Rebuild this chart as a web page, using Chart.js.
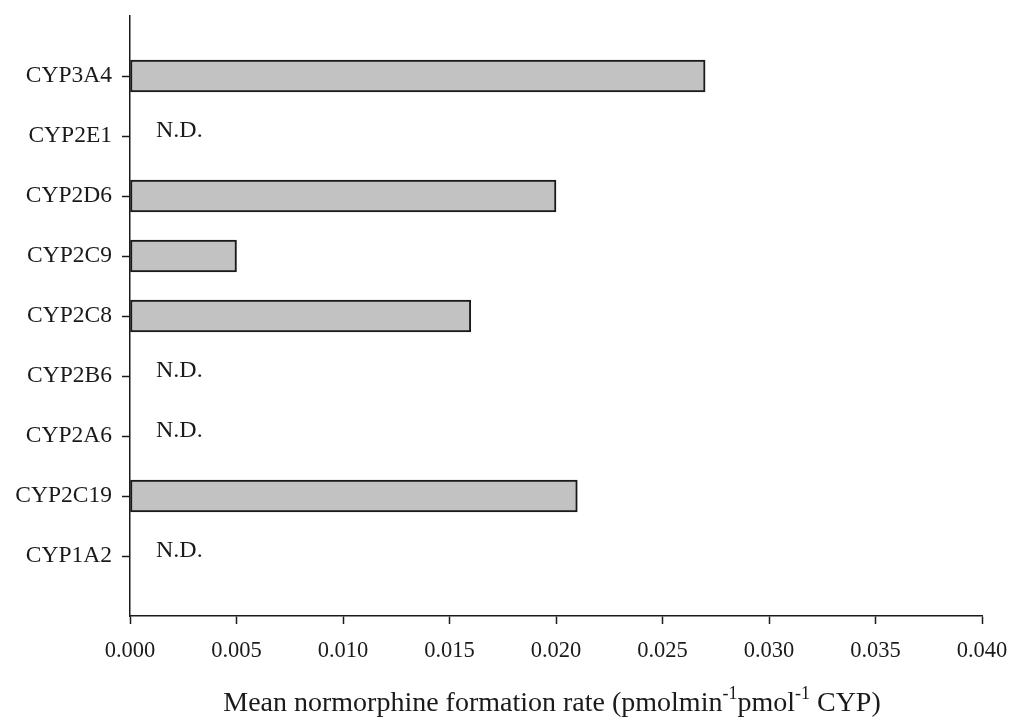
<!DOCTYPE html>
<html>
<head>
<meta charset="utf-8">
<script src="https://cdn.jsdelivr.net/npm/chart.js@4.4.0/dist/chart.umd.min.js"></script>
<style>
  html, body { margin: 0; padding: 0; background: #fff; }
  #wrap { width: 1013px; height: 724px; position: relative; }
</style>
</head>
<body>
<div id="wrap"><canvas id="cypChart"></canvas></div>
<script>
// isoform labels, top to bottom
const isoforms = ['CYP3A4', 'CYP2E1', 'CYP2D6', 'CYP2C9', 'CYP2C8', 'CYP2B6', 'CYP2A6', 'CYP2C19', 'CYP1A2'];
// mean normorphine formation rate; null = not detected
const formationRate = [0.027, null, 0.020, 0.005, 0.016, null, null, 0.021, null];
const xTicks = [0, 0.005, 0.010, 0.015, 0.020, 0.025, 0.030, 0.035, 0.040];

const FONT = "'Liberation Serif', 'Times New Roman', serif";
const INK = '#1a1a1a';

// empty slots at both ends give the half-gap above first / below last bar
const labels = [''].concat(isoforms, ['']);
const values = [null].concat(formationRate, [null]);

// "N.D." markers + axis title with superscripts
const annotations = {
  id: 'annotations',
  afterDraw(chart) {
    const { ctx, scales: { x, y } } = chart;
    ctx.save();
    ctx.fillStyle = INK;
    ctx.font = '24px ' + FONT;
    ctx.textBaseline = 'middle';
    ctx.textAlign = 'left';
    values.forEach((v, i) => {
      if (v === null && labels[i] !== '') {
        ctx.fillText('N.D.', x.left + 26, y.getPixelForValue(i) - 5);
      }
    });

    // x axis title
    const parts = [
      ['Mean normorphine formation rate (pmolmin', false],
      ['-1', true],
      ['pmol', false],
      ['-1', true],
      [' CYP)', false]
    ];
    const big = '28px ' + FONT, small = '18px ' + FONT;
    let total = 0;
    parts.forEach(([t, sup]) => { ctx.font = sup ? small : big; total += ctx.measureText(t).width; });
    let cx = 552 - total / 2;
    const base = 711;
    ctx.textBaseline = 'alphabetic';
    parts.forEach(([t, sup]) => {
      ctx.font = sup ? small : big;
      ctx.fillText(t, cx, sup ? base - 12 : base);
      cx += ctx.measureText(t).width;
    });
    ctx.restore();
  }
};

new Chart(document.getElementById('cypChart'), {
  type: 'bar',
  data: {
    labels: labels,
    datasets: [{
      data: values,
      backgroundColor: '#c2c2c2',
      borderColor: '#1a1a1a',
      borderWidth: 2,
      borderSkipped: false,
      barThickness: 32
    }]
  },
  options: {
    indexAxis: 'y',
    responsive: true,
    maintainAspectRatio: false,
    animation: false,
    layout: { padding: { top: 16, right: 31, left: 0, bottom: 0 } },
    plugins: { legend: { display: false }, tooltip: { enabled: false } },
    scales: {
      x: {
        type: 'linear',
        min: 0,
        max: 0.04,
        afterBuildTicks: s => { s.ticks = xTicks.map(v => ({ value: v })); },
        afterFit: s => { s.height = 108; s.paddingLeft = 0; s.paddingRight = 0; },
        border: { display: true, color: INK, width: 1.5 },
        grid: { drawOnChartArea: false, drawTicks: true, tickLength: 8, tickColor: INK, tickWidth: 1.5 },
        ticks: {
          color: INK,
          font: { family: FONT, size: 22.5 },
          padding: 14,
          maxRotation: 0,
          callback: v => v.toFixed(3)
        }
      },
      y: {
        type: 'category',
        offset: false,
        afterFit: s => { s.width = 130; s.paddingTop = 0; s.paddingBottom = 0; },
        border: { display: true, color: INK, width: 1.5 },
        grid: {
          offset: false,
          drawOnChartArea: false,
          drawTicks: true,
          tickLength: 8,
          tickWidth: 1.5,
          tickColor: c => (labels[c.index] === '' ? 'rgba(0,0,0,0)' : INK)
        },
        ticks: {
          color: INK,
          font: { family: FONT, size: 23.5 },
          padding: 10,
          autoSkip: false
        }
      }
    }
  },
  plugins: [annotations]
});
</script>
</body>
</html>
